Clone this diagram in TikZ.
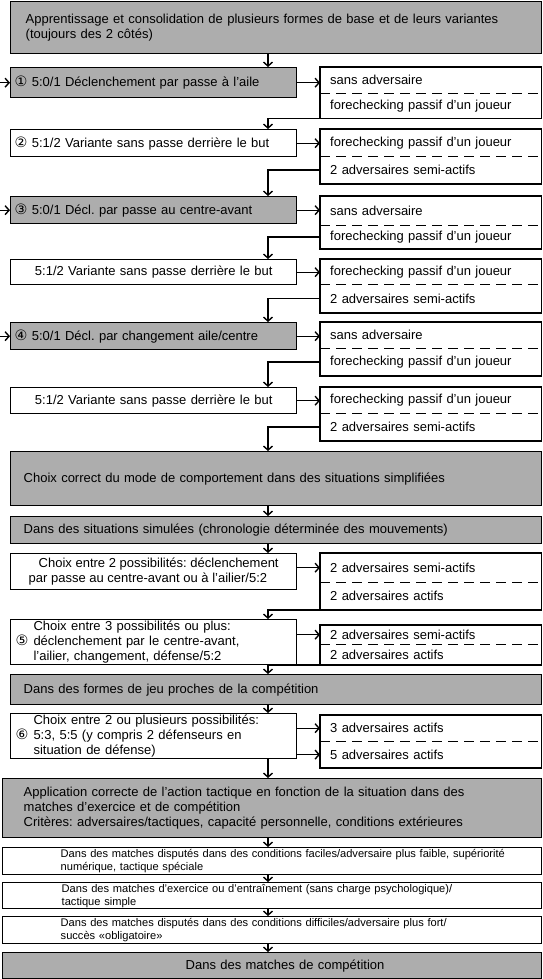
\documentclass[tikz,border=0pt]{standalone}
\usepackage{fontspec}
\setmainfont{Liberation Sans}
\newfontfamily\numfont[Scale=1.1]{DejaVu Sans}
\usetikzlibrary{arrows.meta}
\frenchspacing

\begin{document}
\begin{tikzpicture}[x=1pt,y=-1pt,font=\fontsize{13}{15}\selectfont,
  box/.style={draw,line width=1.4pt,anchor=north west,align=left,inner ysep=0pt},
  grey/.style={box,fill=black!32},
  form/.style={inner xsep=4pt,text width=278pt},
  wide/.style={inner xsep=13pt,text width=505pt},
  half/.style={anchor=north west,align=left,inner xsep=10pt,inner ysep=0pt,text width=201pt},
  frame/.style={line width=1.4pt},
  sep/.style={line width=1.4pt,dash pattern=on 10pt off 6pt},
  arr/.style={line width=1.4pt,-{Straight Barb[length=4pt,width=9pt]}},
  small/.style={font=\fontsize{11.1}{13}\selectfont}]
\useasboundingbox (0,0) rectangle (542,979);
\coordinate (col) at (268,0);
\coordinate (edge) at (0,0);

\node[grey,inner xsep=15pt,text width=501pt,minimum height=52pt] (top) at (10,1)
  {Apprentissage et consolidation de plusieurs formes de base et de leurs variantes\\(toujours des 2 côtés)};

\node[grey,form,minimum height=30pt] (b1) at (10,67) {{\numfont ①} 5:0/1 Déclenchement par passe à l’aile};
\node[half,minimum height=26pt] (up1) at (320,67) {sans adversaire};
\node[half,minimum height=25pt] (lo1) at (up1.south west) {forechecking passif d’un joueur};

\node[box,form,minimum height=27pt] (b2) at (10,129) {{\numfont ②} 5:1/2 Variante sans passe derrière le but};
\node[half,minimum height=27pt] (up2) at (320,129) {forechecking passif d’un joueur};
\node[half,minimum height=27pt] (lo2) at (up2.south west) {2 adversaires semi-actifs};

\node[grey,form,minimum height=27pt] (b3) at (10,196) {{\numfont ③} 5:0/1 Décl. par passe au centre-avant};
\node[half,minimum height=29pt] (up3) at (320,196) {sans adversaire};
\node[half,minimum height=23pt] (lo3) at (up3.south west) {forechecking passif d’un joueur};

\node[box,form,align=center,minimum height=25pt] (b4) at (10,259) {5:1/2 Variante sans passe derrière le but};
\node[half,minimum height=25pt] (up4) at (320,259) {forechecking passif d’un joueur};
\node[half,minimum height=28pt] (lo4) at (up4.south west) {2 adversaires semi-actifs};

\node[grey,form,minimum height=27pt] (b5) at (10,322) {{\numfont ④} 5:0/1 Décl. par changement aile/centre};
\node[half,minimum height=26pt] (up5) at (320,322) {sans adversaire};
\node[half,minimum height=27pt] (lo5) at (up5.south west) {forechecking passif d’un joueur};

\node[box,form,align=center,minimum height=26pt] (b6) at (10,387) {5:1/2 Variante sans passe derrière le but};
\node[half,minimum height=26pt] (up6) at (320,387) {forechecking passif d’un joueur};
\node[half,minimum height=27pt] (lo6) at (up6.south west) {2 adversaires semi-actifs};

\node[grey,wide,minimum height=54pt] (cc) at (10,451) {Choix correct du mode de comportement dans des situations simplifiées};
\node[grey,wide,minimum height=27pt] (sim) at (10,516) {Dans des situations simulées (chronologie déterminée des mouvements)};

\node[box,minimum width=286pt,minimum height=36pt] (c2) at (10,553)
  {\hspace*{10pt}Choix entre 2 possibilités: déclenchement\\par passe au centre-avant ou à l’ailier/5:2};
\node[half,minimum height=29pt] (up7) at (320,553) {2 adversaires semi-actifs};
\node[half,minimum height=27pt] (lo7) at (up7.south west) {2 adversaires actifs};

\node[box,inner xsep=5pt,text width=276pt,minimum height=45pt] (c3) at (10,619)
  {\begin{tabular}{@{}l@{\hspace{5pt}}l@{}}
   & Choix entre 3 possibilités ou plus:\\
   {\numfont ⑤} & déclenchement par le centre-avant,\\
   & l’ailier, changement, défense/5:2
   \end{tabular}};
\node[half,minimum height=19pt] (up8) at (320,625) {2 adversaires semi-actifs};
\node[half,minimum height=20pt] (lo8) at (up8.south west) {2 adversaires actifs};

\node[grey,wide,minimum height=30pt] (jeu) at (10,674) {Dans des formes de jeu proches de la compétition};

\node[box,inner xsep=5pt,text width=276pt,minimum height=41pt] (c4) at (10,713)
  {\begin{tabular}{@{}l@{\hspace{5pt}}l@{}}
   & Choix entre 2 ou plusieurs possibilités:\\
   {\numfont ⑥} & 5:3, 5:5 (y compris 2 défenseurs en\\
   & situation de défense)
   \end{tabular}};
\node[half,minimum height=26pt] (up9) at (320,715) {3 adversaires actifs};
\node[half,minimum height=26pt] (lo9) at (up9.south west) {5 adversaires actifs};

\node[grey,inner xsep=21pt,text width=497pt,minimum height=59pt] (app) at (2,778)
  {Application correcte de l’action tactique en fonction de la situation dans des\\
   matches d’exercice et de compétition\\
   Critères: adversaires/tactiques, capacité personnelle, conditions extérieures};

\node[box,small,inner xsep=2pt,text width=535pt,minimum height=27pt] (m1) at (2,847)
  {\hspace*{56pt}Dans des matches disputés dans des conditions faciles/adversaire plus faible, supériorité\\
   \hspace*{56pt}numérique, tactique spéciale};
\node[box,small,inner xsep=2pt,text width=535pt,minimum height=26pt] (m2) at (2,882)
  {\hspace*{57pt}Dans des matches d’exercice ou d’entraînement (sans charge psychologique)/\\
   \hspace*{57pt}tactique simple};
\node[box,small,inner xsep=2pt,text width=535pt,minimum height=27pt] (m3) at (2,916)
  {\hspace*{56pt}Dans des matches disputés dans des conditions difficiles/adversaire plus fort/\\
   \hspace*{56pt}succès «obligatoire»};
\node[grey,inner xsep=2pt,text width=535pt,minimum height=26pt] (comp) at (2,952)
  {\hspace*{181pt}Dans des matches de compétition};

\draw[frame] (up1.north west) rectangle (lo1.south east);
\draw[frame] (up2.north west) rectangle (lo2.south east);
\draw[frame] (up3.north west) rectangle (lo3.south east);
\draw[frame] (up4.north west) rectangle (lo4.south east);
\draw[frame] (up5.north west) rectangle (lo5.south east);
\draw[frame] (up6.north west) rectangle (lo6.south east);
\draw[frame] (up7.north west) rectangle (lo7.south east);
\draw[frame] (up8.north west) rectangle (lo8.south east);
\draw[frame] (up9.north west) rectangle (lo9.south east);
\draw[sep] (up1.south west) -- (up1.south east);
\draw[sep] (up2.south west) -- (up2.south east);
\draw[sep] (up3.south west) -- (up3.south east);
\draw[sep] (up4.south west) -- (up4.south east);
\draw[sep] (up5.south west) -- (up5.south east);
\draw[sep] (up6.south west) -- (up6.south east);
\draw[sep] (up7.south west) -- (up7.south east);
\draw[sep] (up8.south west) -- (up8.south east);
\draw[sep] (up9.south west) -- (up9.south east);

\draw[arr] (b1.west -| edge) -- (b1.west);
\draw[arr] (b3.west -| edge) -- (b3.west);
\draw[arr] (b5.west -| edge) -- (b5.west);

\draw[arr] (b1.east) -- (b1.east -| up1.west);
\draw[arr] (b2.east) -- (b2.east -| up2.west);
\draw[arr] (b3.east) -- (b3.east -| up3.west);
\draw[arr] (b4.east) -- (b4.east -| up4.west);
\draw[arr] (b5.east) -- (b5.east -| up5.west);
\draw[arr] (b6.east) -- (b6.east -| up6.west);
\draw[arr] (up7.west -| c2.east) -- (up7.west);
\draw[arr] (up8.west -| c3.east) -- (up8.west);
\draw[arr] (up9.west -| c4.east) -- (up9.west);
\draw[arr] (lo9.west -| c4.east) -- (lo9.west);

\draw[arr] (top.south -| col) -- (b1.north -| col);
\draw[arr] (lo1.south west) -| (b2.north -| col);
\draw[arr] (lo2.west) -| (b3.north -| col);
\draw[arr] (lo3.west) -| (b4.north -| col);
\draw[arr] (lo4.west) -| (b5.north -| col);
\draw[arr] (lo5.west) -| (b6.north -| col);
\draw[arr] (lo6.west) -| (cc.north -| col);
\draw[arr] (cc.south -| col) -- (sim.north -| col);
\draw[arr] (sim.south -| col) -- (c2.north -| col);
\draw[arr] (lo7.south west) -| (c3.north -| col);
\draw[arr] (lo8.south west) -| (jeu.north -| col);
\draw[arr] (jeu.south -| col) -- (c4.north -| col);
\draw[arr] (c4.south -| col) -- (app.north -| col);
\draw[arr] (app.south -| col) -- (m1.north -| col);
\draw[arr] (m1.south -| col) -- (m2.north -| col);
\draw[arr] (m2.south -| col) -- (m3.north -| col);
\draw[arr] (m3.south -| col) -- (comp.north -| col);
\end{tikzpicture}
\end{document}
